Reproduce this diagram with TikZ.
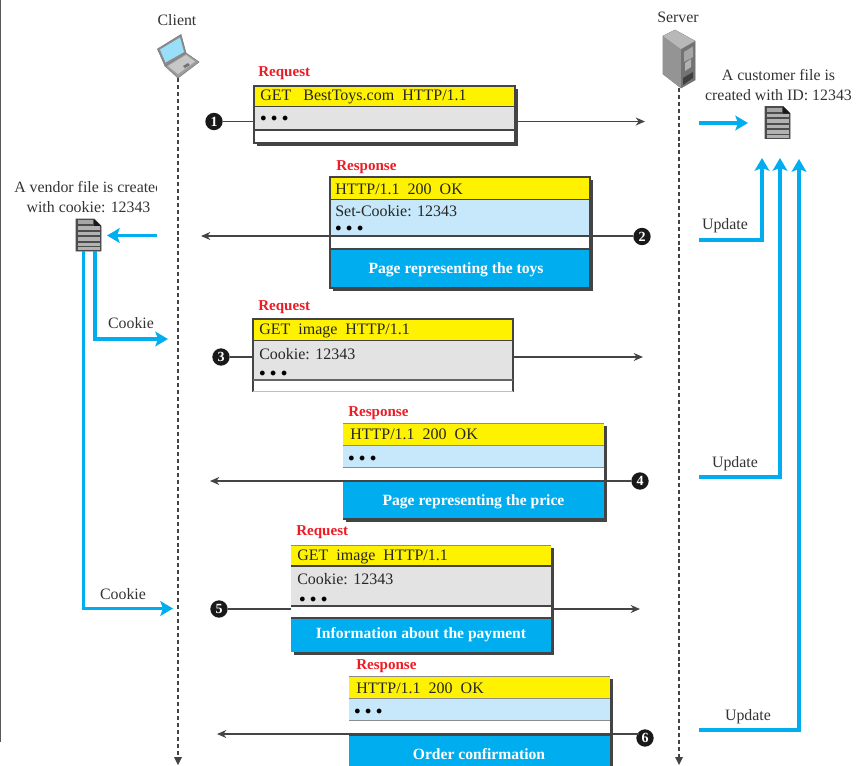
\documentclass[tikz,border=0pt]{standalone}
\usepackage{fontspec}
\setmainfont{Liberation Serif}
\usetikzlibrary{arrows.meta}
\definecolor{cyanb}{HTML}{00AEEF}
\definecolor{ylw}{HTML}{FFF200}
\definecolor{lblue}{HTML}{C7E8FA}
\definecolor{lgray}{HTML}{E3E3E3}
\definecolor{edge}{HTML}{444444}
\definecolor{redl}{HTML}{ED1C24}
\tikzset{
  lbl/.style={font=\fontsize{11.9}{13}\selectfont,text=black!80,inner sep=0pt},
  boxtxt/.style={font=\fontsize{12}{13}\selectfont,text=black!85,inner sep=0pt,anchor=west},
  redlbl/.style={font=\fontsize{11.3}{12}\selectfont\bfseries,text=redl,inner sep=0pt,anchor=west},
  whitebold/.style={font=\fontsize{11.7}{12}\selectfont\bfseries,text=white,inner sep=0pt},
  dots/.style={font=\fontsize{9}{10}\selectfont,text=black,inner sep=0pt,anchor=west},
  num/.style={circle,fill=black!90,text=white,inner sep=0pt,minimum size=13pt,font=\fontsize{10.5}{10}\selectfont\bfseries},
  msg/.style={draw=edge,line width=.9pt},
  msgarr/.style={draw=edge,line width=.9pt,-{Stealth[length=7pt,width=6pt]}},
  life/.style={draw=edge,line width=1pt,dash pattern=on 3pt off 2.2pt},
  bluearr/.style={draw=cyanb,line width=2.7pt,-{Stealth[length=9.5pt,width=11pt,inset=2pt]}},
  frame/.style={draw=edge,line width=.8pt},
  shadowbox/.style={fill=edge,draw=none},
}
\newcommand{\threedots}{$\bullet\mkern3mu\bullet\mkern3mu\bullet$}
\newcommand{\docicon}[3]{% x y name
  \begin{scope}[shift={(#1,#2)}]
    \path[fill=black!70,draw=black!70,line width=.6pt] (0,0) -- (18,0) -- (25,7) -- (25,32) -- (0,32) -- cycle;
    \path[fill=black!90] (18,0) -- (25,7) -- (18,7) -- cycle;
    \path[fill=black!35] (1.5,1.2) rectangle (17,5);
    \foreach \yy in {7,12.5,18,23.5}{\path[fill=black!30] (1.5,\yy) rectangle (23.5,\yy+3.6);}
    \path[fill=black!30] (1.5,28.4) rectangle (23.5,31);
  \end{scope}
  \coordinate (#3) at (#1+12.5,#2+16);
}
\begin{document}
\begin{tikzpicture}[x=0.75pt,y=-0.75pt]
\useasboundingbox (0,0) rectangle (857,765);
\begin{scope}
\clip (0,0) rectangle (857,765);
% page edge
\draw[draw=black!65,line width=1.2pt] (0.5,0) -- (0.5,742);
% lifelines
\coordinate (cT) at (178,78); \coordinate (cB) at (178,765);
\coordinate (sT) at (679,88); \coordinate (sB) at (679,765);
\draw[life] (cT) -- (178,757);
\draw[life] (sT) -- (679,757);
\path[fill=edge] (174,757) -- (182,757) -- (178,765) -- cycle;
\path[fill=edge] (675,757) -- (683,757) -- (679,765) -- cycle;
\node[lbl] (client) at (177,20.5) {Client};
\node[lbl] (server) at (678,17) {Server};
% laptop
\path[fill=black!38,draw=black!50,line width=.5pt] (165,66) -- (186,53) -- (199,62) -- (178,78) -- cycle;
\path[fill=black!22] (168,66) -- (186,55) -- (195,61.5) -- (178,74) -- cycle;
\path[fill=black!55] (183,66) -- (188,63) -- (190,65) -- (185,68) -- cycle;
\path[fill=black!45,draw=black!50,line width=.5pt] (157.5,49) -- (181,34.5) -- (186,53) -- (165,66) -- cycle;
\path[fill=cyanb!40!white] (160,49.5) -- (180,37.5) -- (184,52) -- (165.5,62.5) -- cycle;
% server
\path[fill=black!45,draw=black!50,line width=.4pt] (663,36) -- (675,30) -- (695,41) -- (695,80) -- (681,88) -- (663,74) -- cycle;
\path[fill=black!42] (663,36) -- (681,49) -- (681,88) -- (663,74) -- cycle;
\path[fill=black!55] (681,49) -- (695,41) -- (695,80) -- (681,88) -- cycle;
\path[fill=black!28] (663,36) -- (675,30) -- (695,41) -- (681,49) -- cycle;
\path[fill=black!35] (684,52) -- (693,46.5) -- (693,57) -- (684,62) -- cycle;
\path[fill=black!75] (683,78) -- (693,72) -- (693,78) -- (683,85) -- cycle;
\path[fill=black!30] (685,63) -- (691,59) -- (691,67) -- (685,71) -- cycle;
% file labels
\begin{scope}
\clip (0,170) rectangle (156.5,220);
\node[lbl,anchor=west] (vf1) at (14,187) {A vendor file is created};
\end{scope}
\node[lbl] (vf2) at (88.5,207) {with cookie: 12343};
\node[lbl] (cf1) at (778.5,75) {A customer file is};
\node[lbl] (cf2) at (778.5,95) {created with ID: 12343};
\docicon{76}{219}{vfile}
\docicon{765}{106.5}{cfile}
% Box 1
\path[shadowbox] (257,89) rectangle (518,146);
\path[fill=white] (254,86) rectangle (515,143);
\path[fill=ylw] (254,86) rectangle (515,106.5);
\path[fill=lgray] (254,106.5) rectangle (515,130);
\draw[frame] (254,86) rectangle (515,143) (254,106.5) -- (515,106.5) (254,130) -- (515,130);
\node[redlbl] (r1) at (258,73.5) {Request};
\node[boxtxt] (t1) at (260,97) {GET~~~BestToys.com~~HTTP/1.1};
\node[dots] (d1) at (260,118.5) {\threedots};
% Box 2
\path[shadowbox] (333,180) rectangle (593,291);
\path[fill=white] (330,177) rectangle (590,288);
\path[fill=ylw] (330,177) rectangle (590,199.5);
\path[fill=lblue] (330,199.5) rectangle (590,235.5);
\path[fill=cyanb] (330,249) rectangle (590,288);
\draw[frame] (330,177) rectangle (590,288) (330,199.5) -- (590,199.5) (330,249) -- (590,249);
\node[redlbl] (r2) at (336,167.5) {Response};
\node[boxtxt] (t2) at (335,189) {HTTP/1.1~~200~~OK};
\node[boxtxt] (t2b) at (335,211) {Set-Cookie: 12343};
\node[dots] (d2) at (335,228.5) {\threedots};
\node[whitebold] (p2) at (456,269.5) {Page representing the toys};
% Box 3
\path[fill=white] (253,319) rectangle (513,391.5);
\path[fill=ylw] (253,319) rectangle (513,340.5);
\path[fill=lgray] (253,340.5) rectangle (513,380);
\draw[draw=edge,line width=1pt] (253,391.5) -- (253,319) -- (513,319) -- (513,391.5);
\draw[frame] (253,340.5) -- (513,340.5);
\draw[draw=black!60,line width=.8pt] (253,380) -- (513,380);
\draw[draw=black!25,line width=.7pt] (253,391.5) -- (513,391.5);
\node[redlbl] (r3) at (258,307.5) {Request};
\node[boxtxt] (t3) at (259,330.5) {GET~~image~~HTTP/1.1};
\node[boxtxt] (t3b) at (259,354) {Cookie: 12343};
\node[dots] (d3) at (259,373.5) {\threedots};
% Box 4
\path[shadowbox] (346,426) rectangle (607,522);
\path[fill=white] (343,423) rectangle (604,519);
\path[fill=ylw] (343,423) rectangle (604,445);
\path[fill=lblue] (343,445) rectangle (604,467);
\path[fill=cyanb] (343,481) rectangle (604,519);
\draw[draw=black!45,line width=.7pt] (343,423) -- (604,423) (343,445) -- (604,445) (343,467) -- (604,467);
\draw[draw=edge,line width=.8pt] (343,481) -- (604,481) (343,519) -- (604,519);
\node[redlbl] (r4) at (348,413.5) {Response};
\node[boxtxt] (t4) at (350,434.5) {HTTP/1.1~~200~~OK};
\node[dots] (d4) at (348,458.5) {\threedots};
\node[whitebold] (p4) at (473.5,501.5) {Page representing the price};
% Box 5
\path[shadowbox] (294,548) rectangle (554,655);
\path[fill=white] (291,545) rectangle (551,652);
\path[fill=ylw] (291,545) rectangle (551,566);
\path[fill=lgray] (291,566) rectangle (551,606);
\path[fill=cyanb] (291,618) rectangle (551,652);
\draw[draw=black!45,line width=.7pt] (291,545) -- (551,545);
\draw[draw=edge,line width=.8pt] (291,566) -- (551,566) (291,606) -- (551,606) (291,618) -- (551,618);
\node[redlbl] (r5) at (296,532.5) {Request};
\node[boxtxt] (t5) at (297,556.5) {GET~~image~~HTTP/1.1};
\node[boxtxt] (t5b) at (297,579.5) {Cookie: 12343};
\node[dots] (d5) at (299,599.5) {\threedots};
\node[whitebold] (p5) at (421,634.5) {Information about the payment};
% Box 6
\path[shadowbox] (352,679) rectangle (613,770);
\path[fill=white] (349,676) rectangle (610,770);
\path[fill=ylw] (349,676) rectangle (610,698);
\path[fill=lblue] (349,698) rectangle (610,720);
\path[fill=cyanb] (349,735) rectangle (610,770);
\draw[draw=black!45,line width=.7pt] (349,676) -- (610,676) (349,698) -- (610,698) (349,720) -- (610,720);
\draw[draw=edge,line width=.8pt] (349,735) -- (610,735);
\node[redlbl] (r6) at (356,666.5) {Response};
\node[boxtxt] (t6) at (356,688) {HTTP/1.1~~200~~OK};
\node[dots] (d6) at (354,711.5) {\threedots};
\node[whitebold] (p6) at (479,754.5) {Order confirmation};
% numbered circles
\node[num] (n1) at (214,121.5) {1};
\node[num] (n2) at (642,236.5) {2};
\node[num] (n3) at (221,357) {3};
\node[num] (n4) at (640,481) {4};
\node[num] (n5) at (219,609) {5};
\node[num] (n6) at (645,738) {6};
% message lines
\coordinate (e1a) at (254,121.5); \coordinate (e1b) at (518,121.5); \coordinate (e1c) at (645,121.5);
\draw[msg] (n1) -- (e1a);
\draw[msgarr] (e1b) -- (e1c);
\coordinate (e2) at (201,236);
\draw[msgarr] (n2.west |- e2) -- (e2);
\coordinate (e3a) at (253,357); \coordinate (e3b) at (513,357); \coordinate (e3c) at (643,357);
\draw[msg] (n3) -- (e3a);
\draw[msgarr] (e3b) -- (e3c);
\coordinate (e4) at (210,481);
\draw[msgarr] (n4) -- (e4);
\coordinate (e5a) at (291,609); \coordinate (e5b) at (554,609); \coordinate (e5c) at (640,609);
\draw[msg] (n5) -- (e5a);
\draw[msgarr] (e5b) -- (e5c);
\coordinate (e6) at (217,734);
\draw[msgarr] (n6.north west |- e6) -- (e6);
% blue
\coordinate (b1a) at (157,235.5); \coordinate (b1b) at (107,235.5);
\draw[bluearr] (b1a) -- (b1b);
\draw[bluearr] (95,251) -- (95,339) -- (168,339);
\draw[bluearr] (83.5,251) -- (83.5,608.5) -- (173,608.5);
\draw[bluearr] (699,123) -- (748,123);
\draw[bluearr] (699,240) -- (762,240) -- (762,158);
\draw[bluearr] (699,477) -- (780,477) -- (780,158);
\draw[bluearr] (699,730) -- (799,730) -- (799,159);
% blue labels
\node[lbl] (c1) at (131,323.5) {Cookie};
\node[lbl] (c2) at (123,594) {Cookie};
\node[lbl] (u1) at (725,226) {Update};
\node[lbl] (u2) at (735,464) {Update};
\node[lbl] (u3) at (748,717) {Update};
\end{scope}
\end{tikzpicture}
\end{document}
